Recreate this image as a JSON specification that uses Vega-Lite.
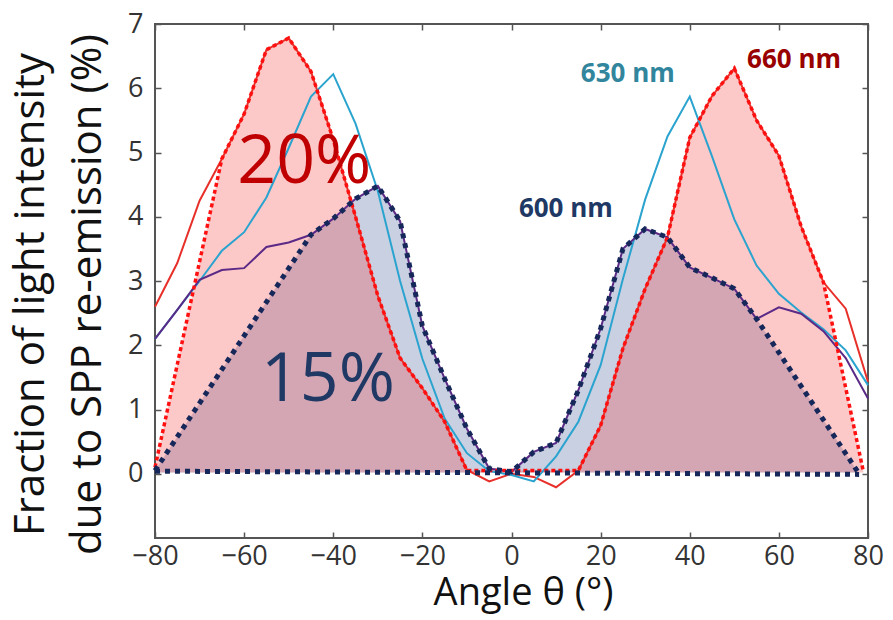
{
  "$schema": "https://vega.github.io/schema/vega-lite/v6.json",
  "width": 713,
  "height": 514,
  "autosize": {"type": "none"},
  "padding": {"left": 155, "top": 24, "right": 25, "bottom": 82},
  "background": "white",
  "config": {
    "view": {"stroke": "#555555", "strokeWidth": 2},
    "font": "Open Sans",
    "axis": {"grid": false, "domain": false, "tickSize": -6, "tickColor": "#555555", "tickWidth": 1.5, "labelFont": "Open Sans", "titleFont": "Open Sans", "labelFlush": false, "labelOverlap": false}
  },
  "datasets": {
    "raw": [
      {"series": "660", "angle": -80, "value": 2.6}, {"series": "660", "angle": -75, "value": 3.28}, {"series": "660", "angle": -70, "value": 4.25}, {"series": "660", "angle": -65, "value": 4.9}, {"series": "660", "angle": -60, "value": 5.6}, {"series": "660", "angle": -55, "value": 6.6}, {"series": "660", "angle": -50, "value": 6.78}, {"series": "660", "angle": -45, "value": 6.26}, {"series": "660", "angle": -40, "value": 5.2}, {"series": "660", "angle": -35, "value": 4.0}, {"series": "660", "angle": -30, "value": 2.77}, {"series": "660", "angle": -25, "value": 1.8}, {"series": "660", "angle": -20, "value": 1.33}, {"series": "660", "angle": -15, "value": 0.81}, {"series": "660", "angle": -10, "value": 0.06}, {"series": "660", "angle": -5, "value": -0.12}, {"series": "660", "angle": 0, "value": 0.0}, {"series": "660", "angle": 5, "value": -0.05}, {"series": "660", "angle": 10, "value": -0.21}, {"series": "660", "angle": 15, "value": 0.05}, {"series": "660", "angle": 20, "value": 0.75}, {"series": "660", "angle": 25, "value": 1.95}, {"series": "660", "angle": 30, "value": 2.88}, {"series": "660", "angle": 35, "value": 3.68}, {"series": "660", "angle": 40, "value": 5.23}, {"series": "660", "angle": 45, "value": 5.88}, {"series": "660", "angle": 50, "value": 6.31}, {"series": "660", "angle": 55, "value": 5.5}, {"series": "660", "angle": 60, "value": 4.95}, {"series": "660", "angle": 65, "value": 3.85}, {"series": "660", "angle": 70, "value": 2.98}, {"series": "660", "angle": 75, "value": 2.57}, {"series": "660", "angle": 80, "value": 1.43},
      {"series": "630", "angle": -80, "value": 2.1}, {"series": "630", "angle": -75, "value": 2.55}, {"series": "630", "angle": -70, "value": 3.0}, {"series": "630", "angle": -65, "value": 3.47}, {"series": "630", "angle": -60, "value": 3.76}, {"series": "630", "angle": -55, "value": 4.3}, {"series": "630", "angle": -50, "value": 5.07}, {"series": "630", "angle": -45, "value": 5.87}, {"series": "630", "angle": -40, "value": 6.22}, {"series": "630", "angle": -35, "value": 5.45}, {"series": "630", "angle": -30, "value": 4.4}, {"series": "630", "angle": -25, "value": 3.0}, {"series": "630", "angle": -20, "value": 1.79}, {"series": "630", "angle": -15, "value": 0.86}, {"series": "630", "angle": -10, "value": 0.32}, {"series": "630", "angle": -5, "value": 0.04}, {"series": "630", "angle": 0, "value": -0.02}, {"series": "630", "angle": 5, "value": -0.12}, {"series": "630", "angle": 10, "value": 0.27}, {"series": "630", "angle": 15, "value": 0.81}, {"series": "630", "angle": 20, "value": 1.69}, {"series": "630", "angle": 25, "value": 3.03}, {"series": "630", "angle": 30, "value": 4.27}, {"series": "630", "angle": 35, "value": 5.25}, {"series": "630", "angle": 40, "value": 5.87}, {"series": "630", "angle": 45, "value": 4.94}, {"series": "630", "angle": 50, "value": 3.96}, {"series": "630", "angle": 55, "value": 3.24}, {"series": "630", "angle": 60, "value": 2.8}, {"series": "630", "angle": 65, "value": 2.51}, {"series": "630", "angle": 70, "value": 2.25}, {"series": "630", "angle": 75, "value": 1.92}, {"series": "630", "angle": 80, "value": 1.38},
      {"series": "600", "angle": -80, "value": 2.1}, {"series": "600", "angle": -75, "value": 2.55}, {"series": "600", "angle": -70, "value": 3.02}, {"series": "600", "angle": -65, "value": 3.17}, {"series": "600", "angle": -60, "value": 3.2}, {"series": "600", "angle": -55, "value": 3.53}, {"series": "600", "angle": -50, "value": 3.6}, {"series": "600", "angle": -45, "value": 3.72}, {"series": "600", "angle": -40, "value": 3.97}, {"series": "600", "angle": -35, "value": 4.28}, {"series": "600", "angle": -30, "value": 4.48}, {"series": "600", "angle": -25, "value": 3.93}, {"series": "600", "angle": -20, "value": 2.3}, {"series": "600", "angle": -15, "value": 1.48}, {"series": "600", "angle": -10, "value": 0.7}, {"series": "600", "angle": -5, "value": 0.08}, {"series": "600", "angle": 0, "value": 0.03}, {"series": "600", "angle": 5, "value": 0.34}, {"series": "600", "angle": 10, "value": 0.48}, {"series": "600", "angle": 15, "value": 1.3}, {"series": "600", "angle": 20, "value": 2.26}, {"series": "600", "angle": 25, "value": 3.5}, {"series": "600", "angle": 30, "value": 3.81}, {"series": "600", "angle": 35, "value": 3.68}, {"series": "600", "angle": 40, "value": 3.21}, {"series": "600", "angle": 45, "value": 3.05}, {"series": "600", "angle": 50, "value": 2.88}, {"series": "600", "angle": 55, "value": 2.41}, {"series": "600", "angle": 60, "value": 2.59}, {"series": "600", "angle": 65, "value": 2.49}, {"series": "600", "angle": 70, "value": 2.22}, {"series": "600", "angle": 75, "value": 1.8}, {"series": "600", "angle": 80, "value": 1.17}
    ],
    "area660": [
      {"angle": -80, "value": 0.1}, {"angle": -65, "value": 4.9}, {"angle": -60, "value": 5.6}, {"angle": -55, "value": 6.6}, {"angle": -50, "value": 6.78}, {"angle": -45, "value": 6.26}, {"angle": -40, "value": 5.2}, {"angle": -35, "value": 4.0}, {"angle": -30, "value": 2.77}, {"angle": -25, "value": 1.8}, {"angle": -20, "value": 1.33}, {"angle": -15, "value": 0.81}, {"angle": -10, "value": 0.05}, {"angle": 15, "value": 0.05}, {"angle": 20, "value": 0.75}, {"angle": 25, "value": 1.95}, {"angle": 30, "value": 2.88}, {"angle": 35, "value": 3.68}, {"angle": 40, "value": 5.23}, {"angle": 45, "value": 5.88}, {"angle": 50, "value": 6.31}, {"angle": 55, "value": 5.5}, {"angle": 60, "value": 4.95}, {"angle": 65, "value": 3.85}, {"angle": 70, "value": 2.98}, {"angle": 79, "value": 0.02}
    ],
    "area600": [
      {"angle": -80, "value": 0.05}, {"angle": -45, "value": 3.72}, {"angle": -40, "value": 3.97}, {"angle": -35, "value": 4.28}, {"angle": -30, "value": 4.48}, {"angle": -25, "value": 3.93}, {"angle": -20, "value": 2.3}, {"angle": -15, "value": 1.48}, {"angle": -10, "value": 0.7}, {"angle": -5, "value": 0.08}, {"angle": 0, "value": 0.03}, {"angle": 5, "value": 0.34}, {"angle": 10, "value": 0.48}, {"angle": 15, "value": 1.3}, {"angle": 20, "value": 2.26}, {"angle": 25, "value": 3.5}, {"angle": 30, "value": 3.81}, {"angle": 35, "value": 3.68}, {"angle": 40, "value": 3.21}, {"angle": 45, "value": 3.05}, {"angle": 50, "value": 2.88}, {"angle": 55, "value": 2.41}, {"angle": 78, "value": 0.0}
    ],
    "baseline": [
      {"angle": -80, "value": 0.04}, {"angle": 78, "value": -0.01}
    ],
    "bigLabels": [
      {"text": "20%", "angle": -46.5, "value": 4.53},
      {"text": "15%", "angle": -41.2, "value": 1.14}
    ],
    "smallLabels": [
      {"text": "630 nm", "angle": 26.1, "value": 6.1},
      {"text": "660 nm", "angle": 63.4, "value": 6.32},
      {"text": "600 nm", "angle": 12.2, "value": 3.99}
    ]
  },
  "resolve": {"axis": {"x": "independent", "y": "independent"}, "scale": {"color": "independent"}},
  "layer": [
    {
      "data": {"name": "area600"},
      "mark": {"type": "area", "color": "#24448a", "opacity": 0.25},
      "encoding": {
        "x": {"field": "angle", "type": "quantitative", "scale": {"domain": [-80, 80], "nice": false, "zero": false},
              "axis": {"orient": "bottom", "values": [-80, -60, -40, -20, 0, 20, 40, 60, 80], "labelFontSize": 27, "labelColor": "#333333", "labelPadding": 11, "title": "Angle θ (°)", "titleFontSize": 38, "titleFontWeight": "normal", "titleColor": "#111111", "titlePadding": 5, "titleX": 368}},
        "y": {"field": "value", "type": "quantitative", "scale": {"domain": [-1, 7], "nice": false, "zero": false},
              "axis": {"orient": "left", "values": [0, 1, 2, 3, 4, 5, 6, 7], "labelFontSize": 27, "labelColor": "#333333", "labelPadding": 18, "title": ["Fraction of light intensity", "due to SPP re-emission (%)"], "titleFontSize": 42, "titleFontWeight": "normal", "titleColor": "#111111", "titleLineHeight": 57, "titlePadding": 18, "titleY": 270}},
        "y2": {"datum": 0.02}
      }
    },
    {
      "data": {"name": "area660"},
      "mark": {"type": "area", "color": "#f43434", "opacity": 0.27},
      "encoding": {
        "x": {"field": "angle", "type": "quantitative", "scale": {"domain": [-80, 80], "nice": false, "zero": false}, "axis": {"orient": "top", "values": [-80, -60, -40, -20, 0, 20, 40, 60, 80], "labels": false, "title": null}},
        "y": {"field": "value", "type": "quantitative", "scale": {"domain": [-1, 7], "nice": false, "zero": false}, "axis": {"orient": "right", "values": [0, 1, 2, 3, 4, 5, 6, 7], "labels": false, "title": null}},
        "y2": {"datum": 0.02}
      }
    },
    {
      "data": {"name": "raw"},
      "mark": {"type": "line", "strokeWidth": 2},
      "encoding": {
        "x": {"field": "angle", "type": "quantitative", "scale": {"domain": [-80, 80], "nice": false, "zero": false}, "axis": null},
        "y": {"field": "value", "type": "quantitative", "scale": {"domain": [-1, 7], "nice": false, "zero": false}, "axis": null},
        "color": {"field": "series", "type": "nominal", "scale": {"domain": ["660", "630", "600"], "range": ["#e8302a", "#2aa3cf", "#5b2a86"]}, "legend": null}
      }
    },
    {
      "data": {"name": "area660"},
      "mark": {"type": "line", "color": "#ff1010", "strokeWidth": 3.5, "strokeDash": [4, 3]},
      "encoding": {
        "x": {"field": "angle", "type": "quantitative", "scale": {"domain": [-80, 80], "nice": false, "zero": false}, "axis": null},
        "y": {"field": "value", "type": "quantitative", "scale": {"domain": [-1, 7], "nice": false, "zero": false}, "axis": null}
      }
    },
    {
      "data": {"name": "area600"},
      "mark": {"type": "line", "color": "#16275a", "strokeWidth": 5, "strokeDash": [5, 5]},
      "encoding": {
        "x": {"field": "angle", "type": "quantitative", "scale": {"domain": [-80, 80], "nice": false, "zero": false}, "axis": null},
        "y": {"field": "value", "type": "quantitative", "scale": {"domain": [-1, 7], "nice": false, "zero": false}, "axis": null}
      }
    },
    {
      "data": {"name": "baseline"},
      "mark": {"type": "line", "color": "#16275a", "strokeWidth": 5, "strokeDash": [5, 5]},
      "encoding": {
        "x": {"field": "angle", "type": "quantitative", "scale": {"domain": [-80, 80], "nice": false, "zero": false}, "axis": null},
        "y": {"field": "value", "type": "quantitative", "scale": {"domain": [-1, 7], "nice": false, "zero": false}, "axis": null}
      }
    },
    {
      "data": {"name": "bigLabels"},
      "mark": {"type": "text", "fontSize": 68, "font": "Open Sans", "align": "center", "baseline": "alphabetic"},
      "encoding": {
        "x": {"field": "angle", "type": "quantitative", "scale": {"domain": [-80, 80], "nice": false, "zero": false}, "axis": null},
        "y": {"field": "value", "type": "quantitative", "scale": {"domain": [-1, 7], "nice": false, "zero": false}, "axis": null},
        "text": {"field": "text"},
        "color": {"field": "text", "type": "nominal", "scale": {"domain": ["20%", "15%"], "range": ["#c00000", "#1f3864"]}, "legend": null}
      }
    },
    {
      "data": {"name": "smallLabels"},
      "mark": {"type": "text", "fontSize": 26, "fontWeight": "bold", "font": "Open Sans", "align": "center", "baseline": "alphabetic"},
      "encoding": {
        "x": {"field": "angle", "type": "quantitative", "scale": {"domain": [-80, 80], "nice": false, "zero": false}, "axis": null},
        "y": {"field": "value", "type": "quantitative", "scale": {"domain": [-1, 7], "nice": false, "zero": false}, "axis": null},
        "text": {"field": "text"},
        "color": {"field": "text", "type": "nominal", "scale": {"domain": ["630 nm", "660 nm", "600 nm"], "range": ["#31859c", "#990000", "#203864"]}, "legend": null}
      }
    }
  ]
}
